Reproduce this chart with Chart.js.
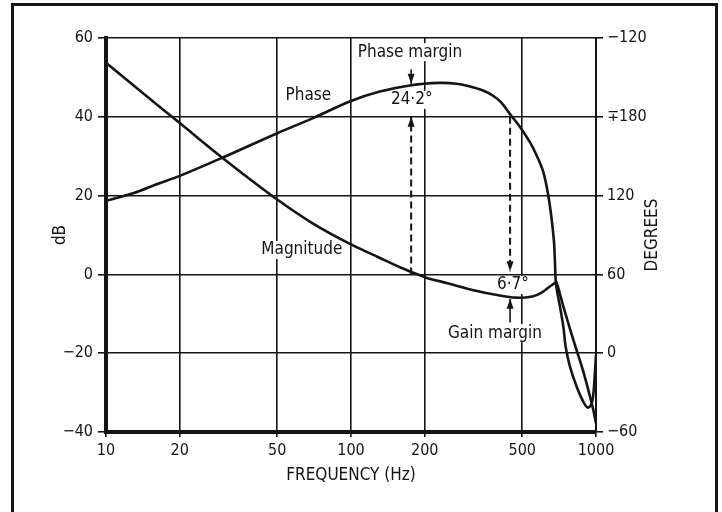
<!DOCTYPE html>
<html>
<head>
<meta charset="utf-8">
<script src="https://cdn.jsdelivr.net/npm/chart.js@4/dist/chart.umd.min.js"></script>
<style>
  body { margin: 0; background: #fff; }
  #wrap { position: relative; width: 722px; height: 512px; overflow: hidden; }
  #frame { position: absolute; left: 11px; top: 3px; width: 707px; height: 540px;
           border: 3px solid #161616; border-bottom: none; box-sizing: border-box; }
  canvas { position: absolute; left: 0; top: 0; }
</style>
</head>
<body>
<div id="wrap">
  <div id="frame"></div>
  <canvas id="bode" width="722" height="512"></canvas>
</div>
<script>
// magnitude (dB) up to the cusp near 690 Hz
const magFreq = [10, 15, 20, 30, 50, 70, 100, 130, 160, 200, 250, 316, 400, 470, 550, 600, 650, 690];
const magDb   = [53.7, 44.7, 38.4, 29.5, 19.0, 12.9, 7.6, 4.3, 1.7, -0.7, -2.3, -4.0, -5.3, -5.9, -5.6, -4.6, -3.0, -1.9];
// magnitude after the cusp
const fallFreq = [690, 702, 736, 771, 807, 847, 887, 930, 975, 1000];
const fallDb   = [-1.9, -3.5, -8.2, -12.4, -16.5, -20.6, -24.6, -29.3, -34.4, -37.8];
// phase (degrees, right axis)
const phaseFreq = [10, 13, 16, 20, 30, 50, 70, 100, 130, 176, 230, 270, 300, 346, 380, 410, 446, 489, 538, 573, 610, 639,
                   659, 674, 680, 687, 713, 736, 752, 783, 834, 887, 925, 955, 975, 991, 1000];
const phaseDeg  = [116, 122, 128.5, 135, 149, 167.5, 179, 192, 199, 204, 205.8, 205.2, 203.5, 200, 196, 191, 182, 172.5, 160.5, 150.4, 137.7, 119.9,
                   102.1, 84.4, 69.1, 52.4, 35.4, 20.1, 4.8, -10.2, -25.5, -36.9, -41.4, -39.3, -31.5, -12.9, -1.5];

const xTicks = [10, 20, 50, 100, 200, 500, 1000];
const pmFreq = 176;   // 0 dB crossing
const gmFreq = 446;   // -180 deg crossing

const noteText = ['Phase', 'Magnitude', 'Phase margin', '24·2°', '6·7°', 'Gain margin'];
const noteFreq = [67, 63, 174, 177, 458, 387];
const noteDb   = [45.5, 6.2, 56.4, 44.3, -2.7, -14.9];

const INK = '#141414';
const FONT = '"DejaVu Sans Condensed", "DejaVu Sans", sans-serif';
Chart.defaults.font.family = FONT;
Chart.defaults.color = INK;

const pts = (xs, ys) => xs.map((v, i) => ({ x: v, y: ys[i] }));
const minus = v => String(v).replace('-', '\u2212');

const curve = { borderColor: INK, borderWidth: 2.6, pointRadius: 0, showLine: true, fill: false, tension: 0.35 };
const dashed = { borderColor: INK, borderWidth: 2, pointRadius: 0, showLine: true, borderDash: [7, 4] };
const solid = { borderColor: INK, borderWidth: 1.6, pointRadius: 0, showLine: true };

const arrows = [
  { f: pmFreq, from: 0, to: 40 },
  { f: pmFreq, from: 52, to: 48.4 },
  { f: gmFreq, from: 40, to: 0.8 },
  { f: gmFreq, from: -12.2, to: -6.2 }
];

const notes = {
  id: 'notes',
  beforeDatasetsDraw(chart) {
    const { ctx, scales: { x, y } } = chart;
    ctx.save();
    ctx.font = '17px ' + FONT;
    ctx.textAlign = 'center';
    ctx.textBaseline = 'middle';
    noteText.forEach((t, i) => {
      const px = x.getPixelForValue(noteFreq[i]);
      const py = y.getPixelForValue(noteDb[i]);
      const w = ctx.measureText(t).width;
      ctx.fillStyle = '#fff';
      ctx.fillRect(px - w / 2 - 3, py - 9, w + 6, 18);
      ctx.fillStyle = INK;
      ctx.fillText(t, px, py);
    });
    ctx.restore();
  },
  afterDatasetsDraw(chart) {
    const { ctx, scales: { x, y } } = chart;
    ctx.save();
    ctx.fillStyle = INK;
    arrows.forEach(a => {
      const px = x.getPixelForValue(a.f);
      const tip = y.getPixelForValue(a.to);
      const dir = a.to > a.from ? 1 : -1;   // 1 = pointing up
      ctx.beginPath();
      ctx.moveTo(px, tip);
      ctx.lineTo(px - 3.5, tip + dir * 10);
      ctx.lineTo(px + 3.5, tip + dir * 10);
      ctx.closePath();
      ctx.fill();
    });
    ctx.restore();
  },
  afterDraw(chart) {
    const { ctx, chartArea: a } = chart;
    const midY = (a.top + a.bottom) / 2;
    ctx.save();
    ctx.fillStyle = INK;
    ctx.font = '17px ' + FONT;
    ctx.textAlign = 'center';
    ctx.textBaseline = 'middle';
    ctx.fillText('FREQUENCY (Hz)', (a.left + a.right) / 2, a.bottom + 44);
    [['dB', a.left - 45], ['DEGREES', a.right + 57]].forEach(([t, px]) => {
      ctx.save();
      ctx.translate(px, midY);
      ctx.rotate(-Math.PI / 2);
      ctx.fillText(t, 0, 0);
      ctx.restore();
    });
    ctx.restore();
  }
};

new Chart(document.getElementById('bode'), {
  type: 'scatter',
  data: {
    datasets: [
      { ...curve, data: pts(magFreq, magDb), yAxisID: 'y' },
      { ...curve, data: pts(fallFreq, fallDb), yAxisID: 'y', tension: 0.2 },
      { ...curve, data: pts(phaseFreq, phaseDeg), yAxisID: 'y1' },
      { ...dashed, data: pts([pmFreq, pmFreq], [arrows[0].from, arrows[0].to]), yAxisID: 'y' },
      { ...dashed, data: pts([gmFreq, gmFreq], [arrows[2].from, arrows[2].to]), yAxisID: 'y' },
      { ...solid, data: pts([pmFreq, pmFreq], [arrows[1].from, arrows[1].to]), yAxisID: 'y' },
      { ...solid, data: pts([gmFreq, gmFreq], [arrows[3].from, arrows[3].to]), yAxisID: 'y' }
    ]
  },
  options: {
    responsive: false,
    animation: false,
    events: [],
    layout: { padding: { top: 38, left: 0, right: 0, bottom: 0 } },
    plugins: { legend: { display: false }, tooltip: { enabled: false } },
    scales: {
      x: {
        type: 'logarithmic', min: 10, max: 1000,
        afterBuildTicks: s => { s.ticks = xTicks.map(v => ({ value: v })); },
        afterFit: s => { s.height = 80; },
        grid: { color: INK, lineWidth: 1.6, tickLength: 5 },
        border: { color: INK, width: 4 },
        ticks: { callback: v => String(v), padding: 4, maxRotation: 0, autoSkip: false, font: { size: 16 } }
      },
      y: {
        min: -40, max: 60,
        afterFit: s => { s.width = 106; },
        grid: { color: INK, lineWidth: 1.6, tickLength: 8 },
        border: { color: INK, width: 4 },
        ticks: { stepSize: 20, callback: minus, padding: 5, font: { size: 16 } }
      },
      y1: {
        position: 'right', min: -60, max: 240,
        afterFit: s => { s.width = 126; },
        grid: { drawOnChartArea: false, color: INK, lineWidth: 1.6, tickLength: 7 },
        border: { color: INK, width: 2 },
        ticks: {
          stepSize: 60, padding: 4, font: { size: 16 },
          callback: v => v === 240 ? '\u2212120' : v === 180 ? '\u2213180' : minus(v)
        }
      }
    }
  },
  plugins: [notes]
});
</script>
</body>
</html>
